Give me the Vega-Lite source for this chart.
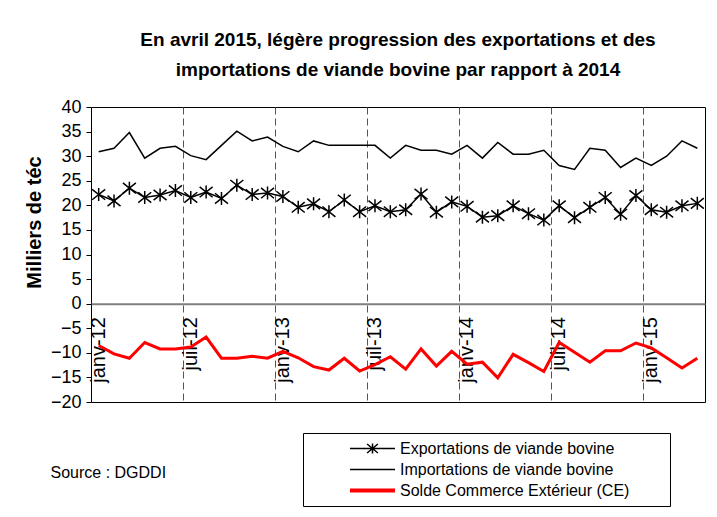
{
  "$schema": "https://vega.github.io/schema/vega-lite/v6.json",
  "width": 614,
  "height": 295,
  "autosize": "none",
  "padding": {"left": 91, "top": 107, "right": 12, "bottom": 115},
  "background": "white",
  "title": {
    "text": ["En avril 2015, légère progression des exportations et des", "importations de viande bovine par rapport à 2014"],
    "font": "Liberation Sans", "fontSize": 19, "fontWeight": "bold", "color": "#000",
    "anchor": "middle", "frame": "group", "lineHeight": 30, "offset": 18
  },
  "data": {"values": [
    {"mois": "janv-12", "Exportations de viande bovine": 22.2, "Importations de viande bovine": 30.9, "Solde Commerce Extérieur (CE)": -8.5},
    {"mois": "févr-12", "Exportations de viande bovine": 20.9, "Importations de viande bovine": 31.6, "Solde Commerce Extérieur (CE)": -10.2},
    {"mois": "mars-12", "Exportations de viande bovine": 23.5, "Importations de viande bovine": 34.8, "Solde Commerce Extérieur (CE)": -11.1},
    {"mois": "avr-12", "Exportations de viande bovine": 21.6, "Importations de viande bovine": 29.6, "Solde Commerce Extérieur (CE)": -7.9},
    {"mois": "mai-12", "Exportations de viande bovine": 22.1, "Importations de viande bovine": 31.6, "Solde Commerce Extérieur (CE)": -9.2},
    {"mois": "juin-12", "Exportations de viande bovine": 23.0, "Importations de viande bovine": 32.0, "Solde Commerce Extérieur (CE)": -9.2},
    {"mois": "juil-12", "Exportations de viande bovine": 21.6, "Importations de viande bovine": 30.1, "Solde Commerce Extérieur (CE)": -8.8},
    {"mois": "août-12", "Exportations de viande bovine": 22.7, "Importations de viande bovine": 29.3, "Solde Commerce Extérieur (CE)": -6.8},
    {"mois": "sept-12", "Exportations de viande bovine": 21.4, "Importations de viande bovine": 32.2, "Solde Commerce Extérieur (CE)": -11.1},
    {"mois": "oct-12", "Exportations de viande bovine": 24.1, "Importations de viande bovine": 35.1, "Solde Commerce Extérieur (CE)": -11.1},
    {"mois": "nov-12", "Exportations de viande bovine": 22.2, "Importations de viande bovine": 33.1, "Solde Commerce Extérieur (CE)": -10.7},
    {"mois": "déc-12", "Exportations de viande bovine": 22.5, "Importations de viande bovine": 33.9, "Solde Commerce Extérieur (CE)": -11.1},
    {"mois": "janv-13", "Exportations de viande bovine": 21.8, "Importations de viande bovine": 32.0, "Solde Commerce Extérieur (CE)": -9.7},
    {"mois": "févr-13", "Exportations de viande bovine": 19.6, "Importations de viande bovine": 30.9, "Solde Commerce Extérieur (CE)": -11.0},
    {"mois": "mars-13", "Exportations de viande bovine": 20.3, "Importations de viande bovine": 33.1, "Solde Commerce Extérieur (CE)": -12.8},
    {"mois": "avr-13", "Exportations de viande bovine": 18.7, "Importations de viande bovine": 32.2, "Solde Commerce Extérieur (CE)": -13.5},
    {"mois": "mai-13", "Exportations de viande bovine": 21.1, "Importations de viande bovine": 32.2, "Solde Commerce Extérieur (CE)": -11.1},
    {"mois": "juin-13", "Exportations de viande bovine": 18.7, "Importations de viande bovine": 32.2, "Solde Commerce Extérieur (CE)": -13.7},
    {"mois": "juil-13", "Exportations de viande bovine": 19.9, "Importations de viande bovine": 32.2, "Solde Commerce Extérieur (CE)": -12.4},
    {"mois": "août-13", "Exportations de viande bovine": 18.7, "Importations de viande bovine": 29.6, "Solde Commerce Extérieur (CE)": -10.8},
    {"mois": "sept-13", "Exportations de viande bovine": 19.1, "Importations de viande bovine": 32.2, "Solde Commerce Extérieur (CE)": -13.3},
    {"mois": "oct-13", "Exportations de viande bovine": 22.3, "Importations de viande bovine": 31.2, "Solde Commerce Extérieur (CE)": -9.2},
    {"mois": "nov-13", "Exportations de viande bovine": 18.6, "Importations de viande bovine": 31.2, "Solde Commerce Extérieur (CE)": -12.7},
    {"mois": "déc-13", "Exportations de viande bovine": 20.7, "Importations de viande bovine": 30.4, "Solde Commerce Extérieur (CE)": -9.7},
    {"mois": "janv-14", "Exportations de viande bovine": 19.8, "Importations de viande bovine": 32.2, "Solde Commerce Extérieur (CE)": -12.3},
    {"mois": "févr-14", "Exportations de viande bovine": 17.6, "Importations de viande bovine": 29.6, "Solde Commerce Extérieur (CE)": -11.9},
    {"mois": "mars-14", "Exportations de viande bovine": 17.9, "Importations de viande bovine": 32.8, "Solde Commerce Extérieur (CE)": -15.1},
    {"mois": "avr-14", "Exportations de viande bovine": 19.9, "Importations de viande bovine": 30.4, "Solde Commerce Extérieur (CE)": -10.3},
    {"mois": "mai-14", "Exportations de viande bovine": 18.3, "Importations de viande bovine": 30.4, "Solde Commerce Extérieur (CE)": -12.0},
    {"mois": "juin-14", "Exportations de viande bovine": 17.0, "Importations de viande bovine": 31.2, "Solde Commerce Extérieur (CE)": -13.8},
    {"mois": "juil-14", "Exportations de viande bovine": 19.9, "Importations de viande bovine": 28.1, "Solde Commerce Extérieur (CE)": -7.9},
    {"mois": "août-14", "Exportations de viande bovine": 17.5, "Importations de viande bovine": 27.3, "Solde Commerce Extérieur (CE)": -9.9},
    {"mois": "sept-14", "Exportations de viande bovine": 19.6, "Importations de viande bovine": 31.6, "Solde Commerce Extérieur (CE)": -11.9},
    {"mois": "oct-14", "Exportations de viande bovine": 21.6, "Importations de viande bovine": 31.2, "Solde Commerce Extérieur (CE)": -9.6},
    {"mois": "nov-14", "Exportations de viande bovine": 18.2, "Importations de viande bovine": 27.7, "Solde Commerce Extérieur (CE)": -9.6},
    {"mois": "déc-14", "Exportations de viande bovine": 22.0, "Importations de viande bovine": 29.6, "Solde Commerce Extérieur (CE)": -8.0},
    {"mois": "janv-15", "Exportations de viande bovine": 19.1, "Importations de viande bovine": 28.1, "Solde Commerce Extérieur (CE)": -9.0},
    {"mois": "févr-15", "Exportations de viande bovine": 18.6, "Importations de viande bovine": 30.0, "Solde Commerce Extérieur (CE)": -11.0},
    {"mois": "mars-15", "Exportations de viande bovine": 19.9, "Importations de viande bovine": 33.1, "Solde Commerce Extérieur (CE)": -13.1},
    {"mois": "avr-15", "Exportations de viande bovine": 20.4, "Importations de viande bovine": 31.6, "Solde Commerce Extérieur (CE)": -11.1}
  ]},
  "transform": [
    {"fold": ["Exportations de viande bovine", "Importations de viande bovine", "Solde Commerce Extérieur (CE)"], "as": ["serie", "v"]}
  ],
  "encoding": {
    "y": {
      "field": "v", "type": "quantitative",
      "scale": {"domain": [-20, 40], "nice": false, "zero": false},
      "axis": {
        "values": [-20, -15, -10, -5, 0, 5, 10, 15, 20, 25, 30, 35, 40],
        "domain": false, "grid": false, "ticks": true, "tickColor": "#000", "tickSize": 5, "tickWidth": 1,
        "labelFont": "Liberation Sans", "labelFontSize": 18, "labelColor": "#000", "labelPadding": 5,
        "title": "Milliers de téc", "titleFont": "Liberation Sans", "titleFontSize": 20, "titleFontWeight": "bold",
        "titleColor": "#000", "titleX": -57, "titleY": 115, "titleAngle": 270, "titleBaseline": "middle", "titleAlign": "center"
      }
    }
  },
  "layer": [
    {
      "mark": {"type": "line"},
      "encoding": {
        "x": {
          "field": "mois", "type": "ordinal", "sort": null,
          "scale": {"type": "band", "paddingInner": 0, "paddingOuter": 0},
          "axis": {
            "orient": "bottom", "bandPosition": 0,
            "values": ["juil-12", "janv-13", "juil-13", "janv-14", "juil-14", "janv-15"],
            "grid": true, "gridColor": "#555", "gridDash": [7, 4], "gridWidth": 1,
            "labels": false, "ticks": false, "domain": false,
            "title": "Source : DGDDI", "titleFont": "Liberation Sans", "titleFontSize": 16, "titleFontWeight": "normal",
            "titleColor": "#000", "titleX": -41, "titleY": 70, "titleAlign": "left", "titleBaseline": "middle", "titleAngle": 0
          }
        },
        "color": {
          "field": "serie", "type": "nominal",
          "scale": {"domain": ["Exportations de viande bovine", "Importations de viande bovine", "Solde Commerce Extérieur (CE)"], "range": ["#000000", "#000000", "#ff0000"]},
          "legend": {
            "orient": "none", "legendX": 212, "legendY": 326,
            "title": " ", "titleOrient": "right", "titlePadding": 36,
            "padding": 5, "strokeColor": "#000", "fillColor": "#fff",
            "symbolSize": 2025, "clipHeight": 21, "rowPadding": 0,
            "labelFont": "Liberation Sans", "labelFontSize": 16, "labelColor": "#000", "labelLimit": 400,
            "symbolStrokeWidth": 1.5,
            "encode": {
              "symbols": {
                "update": {
                  "x": {"value": 64.5},
                  "size": {"value": 2025},
                  "shape": {"signal": "datum.value == 'Exportations de viande bovine' ? 'M-1,0L1,0M0,-0.22L0,0.22M-0.24,-0.2L0.24,0.2M-0.24,0.2L0.24,-0.2' : 'M-1,0L1,0'"},
                  "strokeWidth": {"signal": "datum.value == 'Solde Commerce Extérieur (CE)' ? 4 : 1.5"},
                  "fill": {"value": "transparent"}
                }
              },
              "labels": {
                "update": {
                  "x": {"value": 92}
                }
              }
            }
          }
        },
        "strokeWidth": {
          "condition": {"test": "datum.serie == 'Solde Commerce Extérieur (CE)'", "value": 3},
          "value": 1.5
        }
      }
    },
    {
      "transform": [{"filter": "datum.serie == 'Exportations de viande bovine'"}],
      "mark": {"type": "point", "shape": "M0,-1L0,1M-1,-0.8L1,0.8M-1,0.8L1,-0.8", "size": 169, "filled": false, "stroke": "#000", "strokeWidth": 1.5, "opacity": 1},
      "encoding": {
        "x": {
          "field": "mois", "type": "ordinal", "sort": null,
          "axis": {
            "orient": "bottom", "offset": -98.3, "bandPosition": 0.5,
            "values": ["janv-12", "juil-12", "janv-13", "juil-13", "janv-14", "juil-14", "janv-15"],
            "grid": false, "ticks": false,
            "domain": true, "domainColor": "#7f7f7f", "domainWidth": 2,
            "labelAngle": 270, "labelFont": "Liberation Sans", "labelFontSize": 20, "labelColor": "#000",
            "labelPadding": 13, "labelFlush": false, "labelOverlap": false,
            "title": null
          }
        }
      }
    }
  ],
  "resolve": {"axis": {"x": "independent"}},
  "config": {
    "font": "Liberation Sans",
    "view": {"stroke": "#000", "strokeWidth": 1}
  }
}
